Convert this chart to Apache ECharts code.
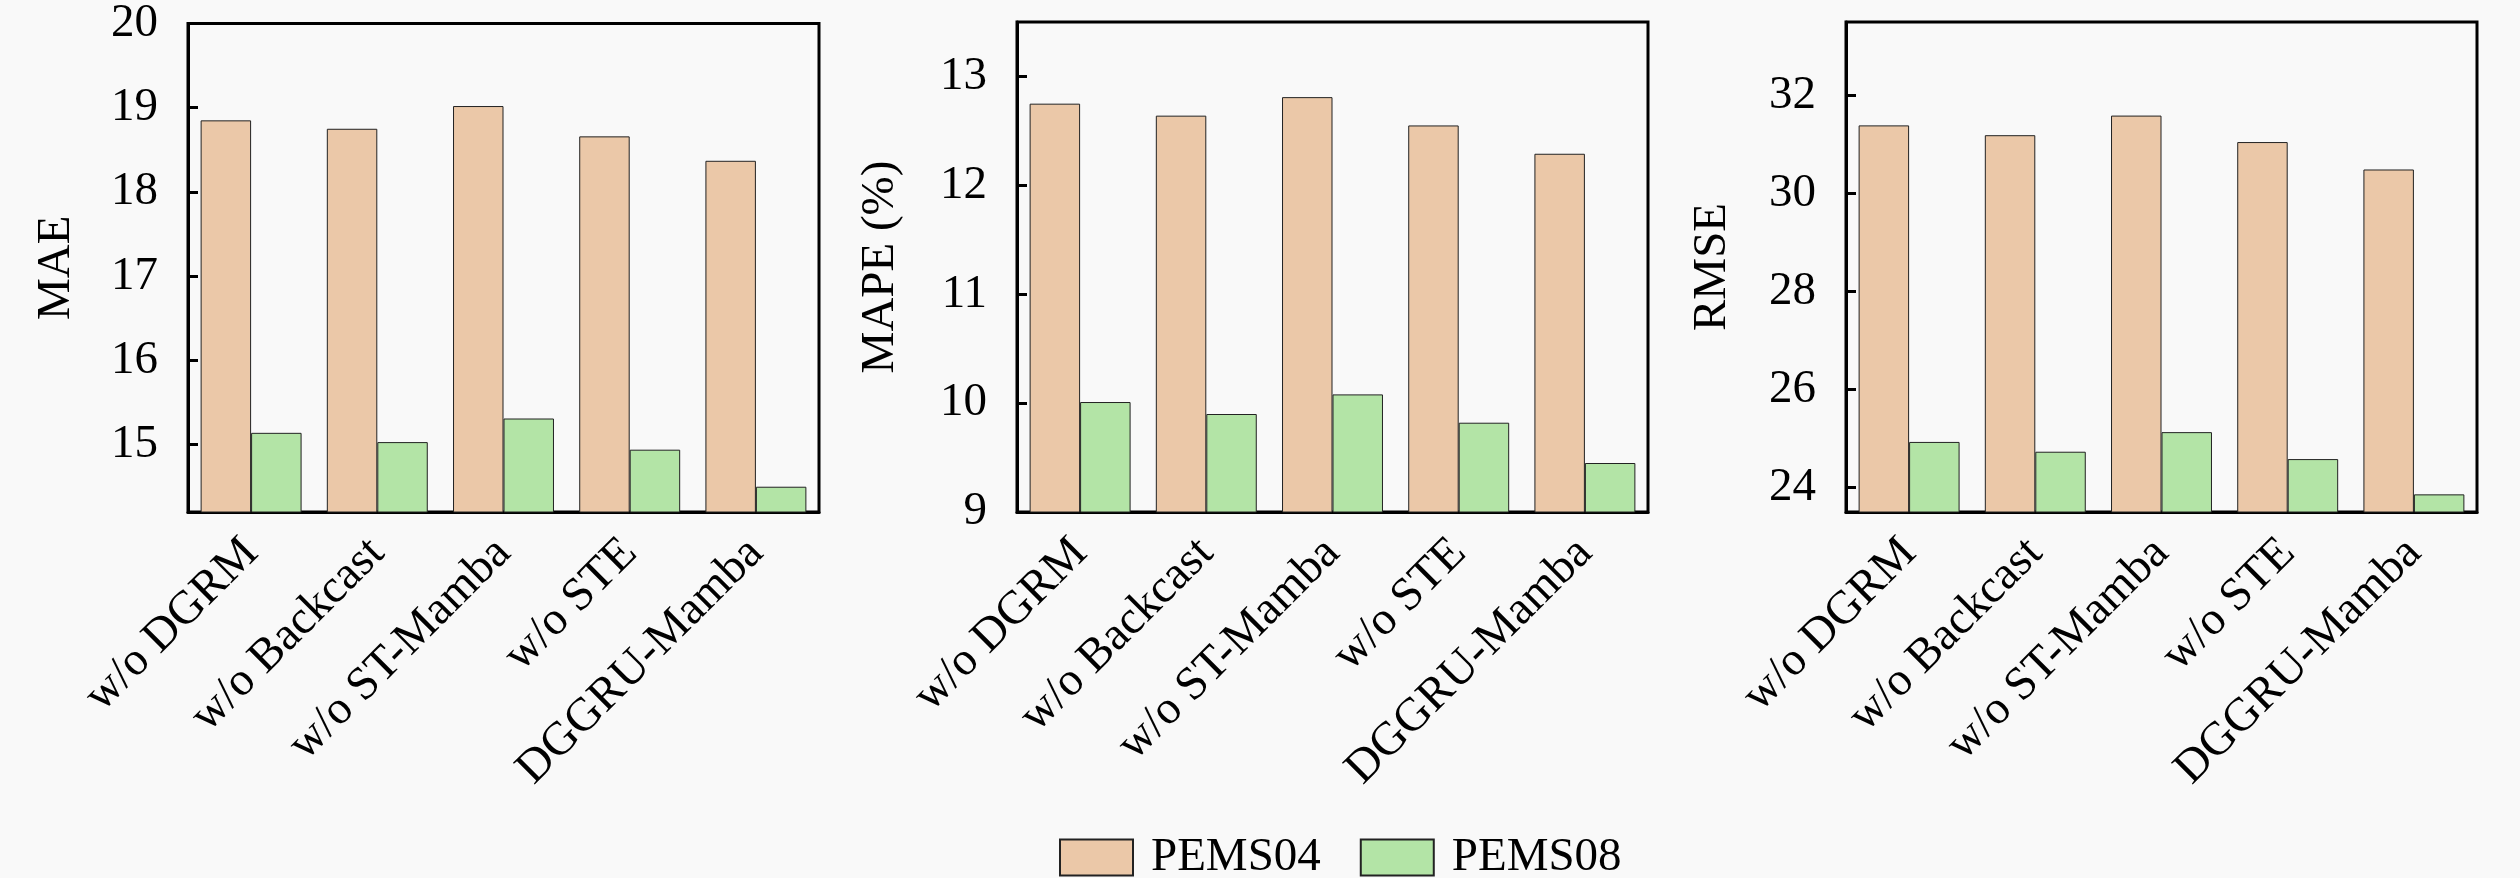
<!DOCTYPE html>
<html>
<head>
<meta charset="utf-8">
<script src="https://cdn.jsdelivr.net/npm/echarts@6/dist/echarts.min.js"></script>
<style>
  html, body { margin: 0; padding: 0; background: #f9f9f9; }
  #chart { width: 2520px; height: 878px; }
</style>
</head>
<body>
<div id="chart"></div>
<script>
var categories = ['w/o DGRM', 'w/o Backcast', 'w/o ST-Mamba', 'w/o STE', 'DGGRU-Mamba'];
var seriesNames = ['PEMS04', 'PEMS08'];

// MAE
var maePems04 = [18.85, 18.75, 19.02, 18.66, 18.37];
var maePems08 = [15.14, 15.03, 15.31, 14.94, 14.50];
// MAPE (%)
var mapePems04 = [12.75, 12.64, 12.81, 12.55, 12.29];
var mapePems08 = [10.01, 9.90, 10.08, 9.82, 9.45];
// RMSE
var rmsePems04 = [31.39, 31.19, 31.59, 31.05, 30.49];
var rmsePems08 = [24.93, 24.73, 25.13, 24.58, 23.86];

var axisNames = ['MAE', 'MAPE (%)', 'RMSE'];
var axisMin = [14.2, 9, 23.5];
var axisMax = [20, 13.5, 33.5];
var axisStep = [1, 1, 2];

var colors = ['#ebc8a8', '#b3e4a6'];
var font = 'Liberation Serif';
var fontSize = 47;

var gridLefts = [188, 1017, 1846];
var nameGaps = [108, 113, 110];
var panels = [
    [maePems04, maePems08],
    [mapePems04, mapePems08],
    [rmsePems04, rmsePems08]
];

var option = {
    backgroundColor: '#f9f9f9',
    animation: false,
    textStyle: { fontFamily: font, color: '#000' },
    legend: {
        data: seriesNames,
        icon: 'rect',
        left: 1054,
        top: 829,
        itemWidth: 73,
        itemHeight: 36,
        itemGap: 39,
        textStyle: { fontFamily: font, fontSize: fontSize, color: '#000', padding: [0, 0, 0, 13] }
    },
    grid: [],
    xAxis: [],
    yAxis: [],
    series: []
};

for (var i = 0; i < 3; i++) {
    option.grid.push({
        left: gridLefts[i], top: 22, width: 631, height: 490,
        show: true, borderColor: '#000', borderWidth: 3, backgroundColor: 'transparent'
    });
    option.xAxis.push({
        type: 'category',
        gridIndex: i,
        data: categories,
        axisLine: { show: true, lineStyle: { color: '#000', width: 3 } },
        axisTick: { show: false },
        axisLabel: {
            rotate: 45, margin: 34, interval: 0,
            fontFamily: font, fontSize: fontSize, color: '#000'
        }
    });
    option.yAxis.push({
        type: 'value',
        gridIndex: i,
        min: axisMin[i],
        max: axisMax[i],
        splitNumber: 5,
        minInterval: axisStep[i],
        maxInterval: axisStep[i],
        name: axisNames[i],
        nameLocation: 'middle',
        nameGap: nameGaps[i],
        nameTextStyle: { fontFamily: font, fontSize: fontSize, color: '#000' },
        axisLine: { show: true, lineStyle: { color: '#000', width: 3 } },
        axisTick: { show: true, inside: true, length: 10, lineStyle: { color: '#000', width: 3 } },
        axisLabel: {
            margin: 30, showMinLabel: axisMin[i] % axisStep[i] === 0, showMaxLabel: axisMax[i] % axisStep[i] === 0,
            fontFamily: font, fontSize: fontSize, color: '#000'
        },
        splitLine: { show: false }
    });
    for (var s = 0; s < 2; s++) {
        option.series.push({
            name: seriesNames[s],
            type: 'bar',
            xAxisIndex: i,
            yAxisIndex: i,
            data: panels[i][s],
            barWidth: '40%',
            barGap: '0%',
            itemStyle: { color: colors[s], borderColor: '#222', borderWidth: 1 }
        });
    }
}

var chart = echarts.init(document.getElementById('chart'));
chart.setOption(option);
</script>
</body>
</html>
